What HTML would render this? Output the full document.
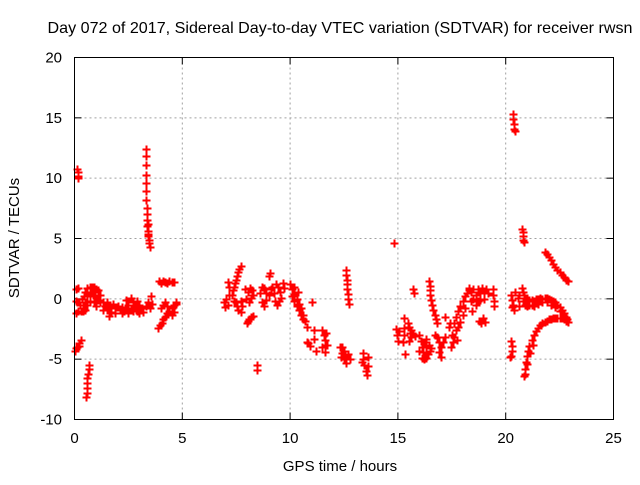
<!DOCTYPE html>
<html><head><meta charset="utf-8"><style>
body{margin:0;background:#fff;width:640px;height:480px;overflow:hidden}
svg text{font-family:"Liberation Sans",sans-serif;font-size:15px;fill:#000}
</style></head><body>
<svg id="chart" width="640" height="480" viewBox="0 0 640 480" xmlns="http://www.w3.org/2000/svg">
<text x="340" y="33" text-anchor="middle" style="font-size:16px" textLength="585" lengthAdjust="spacingAndGlyphs">Day 072 of 2017, Sidereal Day-to-day VTEC variation (SDTVAR) for receiver rwsn</text>
<text x="340" y="471" text-anchor="middle">GPS time / hours</text>
<text x="0" y="0" text-anchor="middle" transform="translate(19,238) rotate(-90)">SDTVAR / TECUs</text>
<g id="grid"></g>
<g id="axes"></g>
<g id="points"></g>
<rect x="74.5" y="57.5" width="539" height="362" fill="none" stroke="#000" stroke-width="1"/>
</svg>
<script>
const xTicks=[0,5,10,15,20,25];
const yTicks=[-10,-5,0,5,10,15,20];
const times=[0.05,0.15,0.05,0.15,0.05,0.15,0.25,0,0.1,0.2,0.3,0.05,0.2,0.12,0.15,0.17,0.18,0.55,0.57,0.58,0.6,0.6,0.62,0.65,0.68,0.3,0.4,0.45,0.5,0.6,0.7,0.8,0.9,1,1.1,1.2,0.5,0.6,0.7,0.8,0.9,1,1.1,1.2,1.3,0.4,0.5,0.6,0.7,0.9,1,0.35,1.4,1.5,1.6,1.7,1.8,1.9,2,2.1,2.2,2.3,2.4,2.5,2.6,2.7,2.8,2.9,3,3.1,3.2,3.3,1.5,1.7,1.9,2.2,2.5,2.7,2.9,3,1.6,1.3,2.4,2.6,3.3,3.3,3.3,3.32,3.33,3.33,3.33,3.35,3.35,3.37,3.38,3.4,3.42,3.45,3.47,3.48,3.4,3.43,3.4,3.5,3.6,3.55,3.9,4,4.1,4.2,4.3,4.4,4.5,4.6,3.85,3.95,4.05,4.1,4.2,4.3,4.4,4.5,4.6,4.7,4,4.1,4.2,4.3,4.5,4.6,4.7,6.95,7,7.05,7.1,7.15,7.1,7.15,7.3,7.35,7.4,7.45,7.5,7.55,7.6,7.65,7.7,7.5,7.55,7.6,7.7,7.7,7.75,7.4,8,8.05,8.1,8.2,8.3,8.05,8.15,8.25,8.3,8.2,8.1,7.9,7.95,8.45,8.45,8.6,8.7,8.8,8.9,8.7,8.8,8.9,9,9.1,9.15,9.05,9,9.25,9.35,9.45,9.55,9.6,9.5,9.4,9.3,9.65,9.7,10,10.1,10.2,10.3,10.4,10.5,10.6,10.7,10.8,10.1,10.2,10.3,10.4,10.5,10.6,10.2,10.35,11,11.1,11.1,10.8,10.9,10.85,11.2,11.5,11.55,11.6,11.5,11.6,11.7,11.65,12.3,12.4,12.5,12.6,12.7,12.4,12.5,12.6,12.35,12.8,12.6,12.6,12.62,12.63,12.65,12.68,12.7,12.72,13.4,13.4,13.45,13.5,13.55,13.6,13.6,13.35,14.8,14.9,14.95,15,15.05,15.3,15.3,15.3,15.35,15.25,15.45,15.5,15.6,15.7,15.8,15.55,15.5,15.6,15.7,15.75,16,16.05,16.1,16.15,16.2,16.3,16.4,16.5,16.1,16.2,16.3,16.45,16.55,16,16.3,16.45,16.47,16.5,16.5,16.55,16.6,16.65,16.7,16.75,16.8,16.8,16.9,17,17.1,17,16.9,17.2,16.7,17.2,17.35,17.5,17.55,17.45,17.4,17.6,17.7,17.8,17.9,18,18.1,18.2,18.3,17.8,17.9,18,18.1,17.6,17.7,17.75,18.3,18.4,18.5,18.6,18.7,18.8,18.9,19,19.1,18.4,18.5,18.6,18.7,18.8,19,19.2,18.45,18.75,18.85,18.95,19.05,19.4,19.4,19.45,19.45,20.35,20.35,20.4,20.4,20.45,20.25,20.28,20.3,20.25,20.2,20.25,20.3,20.35,20.45,20.55,20.6,20.4,20.3,20.6,20.75,20.78,20.8,20.82,20.85,20.75,20.8,20.85,20.9,21,21.1,21.2,21.3,21.4,21.5,21.6,21.7,21.8,21.9,22,22.1,22.2,22.3,22.4,22.5,22.6,22.7,22.8,20.8,20.9,21,21.1,21.2,21.3,21.5,21.7,21.9,22.1,22.3,22.5,22.7,22.85,20.85,20.9,20.95,21,21.05,21.1,21.2,21.3,21.4,21.5,21.6,21.7,21.8,21.9,22,22.1,22.2,22.3,22.4,22.5,22.6,22.7,22.8,22.9,20.9,21,21.15,21.25,21.8,21.9,22,22.1,22.2,22.3,22.4,22.5,22.6,22.7,22.8,22.9];
const values=[0.8,0.9,-0.2,-0.3,-1.2,-1,-0.5,-4.3,-4,-3.7,-3.4,-4.1,-3.9,10.8,10.5,10.2,10,-8.1,-7.8,-7.4,-7,-6.6,-6.2,-5.8,-5.5,-1,-0.5,0.2,0.6,0.9,1,1,1,0.8,0.7,0.3,-0.3,0.2,0.4,0.5,0.3,0.1,-0.1,-0.3,-0.3,-1,-0.9,-0.5,-0.2,-0.3,-0.6,0,-0.6,-0.3,-0.5,-0.7,-0.4,-0.8,-0.6,-0.9,-0.7,-1,-0.8,-0.5,-0.9,-0.3,-0.6,-1,-0.5,-0.8,-1.1,-0.6,-0.9,-1.1,-1.2,-1.2,-1.2,-1,-0.2,-1.2,-1.4,-0.9,-0.1,0.1,12.4,11.8,11.1,10.3,9.6,8.9,8.2,7.5,7,6.5,6,5.6,5.2,4.9,4.6,4.3,6.2,5.4,-0.3,-0.8,-0.4,0.2,1.5,1.3,1.5,1.4,1.3,1.5,1.4,1.4,-2.4,-2.2,-2,-1.7,-1.5,-1.2,-1,-0.8,-0.5,-0.4,-0.8,-0.5,-0.3,-0.6,-1.3,-1.1,-0.3,-0.3,-0.7,0,-0.5,0.3,1.4,1,0.3,0.7,1,1.3,1.6,1.9,2.2,2.5,2.7,-0.3,-0.6,-0.9,-1.1,-0.2,-0.6,-0.2,-2,-1.8,-1.7,-1.5,-1.4,0.6,0.9,0.7,0.3,0.1,-0.3,0.8,0,-5.5,-5.9,0.5,1,0.9,0.5,-0.3,-0.6,-0.1,0.3,0.8,1,2.1,1.9,0.5,1.2,1,0.6,0.1,-0.2,-0.5,-0.2,1.3,0.9,1.2,0.8,0.4,0,-0.4,-0.8,-1.3,-1.8,-2.3,0.2,-0.2,-0.6,-0.9,-1.3,-1.7,1,0.6,-0.3,-2.6,-3.3,-3.6,-3.9,-3.7,-4.3,-2.6,-3,-3.4,-4,-4.4,-3.8,-2.8,-4,-4.5,-5,-5.3,-4.6,-4,-4.3,-4.8,-4.8,-5,2.4,2,1.6,1.2,0.8,0.4,0,-0.4,-4.5,-5,-5.5,-6,-6.3,-4.8,-5.6,-5.2,4.6,-2.5,-3,-3.5,-2.7,-1.6,-2.4,-3,-4.6,-3.6,-2,-2.3,-2.6,-2.9,-3.1,-2.8,-3.5,-3.2,0.8,0.5,-3,-3.5,-4,-4.4,-3.6,-4,-4.6,-4.3,-4.9,-5,-4.9,-3.8,-4.1,-4.3,-3.3,1.5,1.1,0.7,0.3,-0.1,-0.5,-0.9,-1.3,-1.7,-2,-3.2,-3.6,-4,-3.6,-4.8,-4.4,-3.2,-3,-1.5,-2.3,-3,-3.6,-4,-2,-2,-1.5,-1,-0.6,-0.2,0.2,0.5,0.7,-2.3,-1.9,-1.3,-0.8,-3.2,-2.6,-3.4,0.9,0.6,0.8,0.3,0.8,0.5,0.9,0.6,0.8,-0.2,0,-0.5,-0.2,-0.1,0,0.5,-1,-1.8,-2,-1.6,-1.9,0.8,0.3,-0.2,-0.6,15.3,14.9,14.5,14.1,13.9,-3.5,-3.9,-4.3,-4.7,-4.8,0.3,-0.1,-0.5,0.6,0.1,-0.6,-0.9,-0.7,0.3,5.8,5.5,5.2,4.9,4.7,0.9,0.6,0.3,0.1,0,-0.1,-0.1,-0.2,0,0,0.1,0,0.1,0.1,0,-0.1,-0.2,-0.3,-0.5,-0.7,-0.9,-1.2,-1.5,-0.2,-0.5,-0.6,-0.5,-0.5,-0.6,-0.4,-0.3,-0.3,-0.5,-0.7,-1,-1.5,-1.7,-6.4,-5.8,-5.2,-4.7,-4.3,-3.9,-3.4,-3,-2.7,-2.4,-2.2,-2,-1.9,-1.8,-1.7,-1.7,-1.6,-1.6,-1.6,-1.6,-1.6,-1.7,-1.8,-1.9,-6.2,-5.4,-4.5,-3.8,3.9,3.7,3.5,3.2,2.9,2.6,2.4,2.2,2,1.8,1.6,1.5];

const NS='http://www.w3.org/2000/svg';
const X0=74.5,X1=613.5,Y0=419.5,Y1=57.5;
function sx(t){return X0+(t-0)/(25-0)*(X1-X0);}
function sy(v){return Y0-(v+10)/(30)*(Y0-Y1);}
function mk(tag,attrs,parent){const e=document.createElementNS(NS,tag);for(const k in attrs)e.setAttribute(k,attrs[k]);parent.appendChild(e);return e;}
const grid=document.getElementById('grid'),axes=document.getElementById('axes'),pts=document.getElementById('points');
xTicks.forEach(t=>{
  const x=sx(t);
  if(t>0&&t<25){const g=mk('line',{x1:x,x2:x,y1:Y1,y2:Y0,stroke:'#a0a0a0','stroke-dasharray':'2,3'},grid);
  
  }
  mk('line',{x1:x,x2:x,y1:Y0,y2:Y0-7,stroke:'#000'},axes);
  mk('line',{x1:x,x2:x,y1:Y1,y2:Y1+7,stroke:'#000'},axes);
  const l=mk('text',{x:x,y:443,'text-anchor':'middle'},axes);l.textContent=t;
  
  
});
yTicks.forEach(v=>{
  const y=sy(v);
  if(v>-10&&v<20){const g=mk('line',{x1:X0,x2:X1,y1:y,y2:y,stroke:'#a0a0a0','stroke-dasharray':'2,3'},grid);
  
  }
  mk('line',{x1:X0,x2:X0+7,y1:y,y2:y,stroke:'#000'},axes);
  mk('line',{x1:X1,x2:X1-7,y1:y,y2:y,stroke:'#000'},axes);
  const l=mk('text',{x:62,y:y+5,'text-anchor':'end'},axes);l.textContent=v;
  
  
});
for(let i=0;i<times.length;i++){
  const x=Math.round(sx(times[i]))+0.5,y=Math.round(sy(values[i]))+0.5;
  const p=mk('path',{d:`M${x-4},${y}h8M${x},${y-4}v8`,stroke:'#ff0000','stroke-width':2,fill:'none'},pts);
  
  
}
</script>
</body></html>
